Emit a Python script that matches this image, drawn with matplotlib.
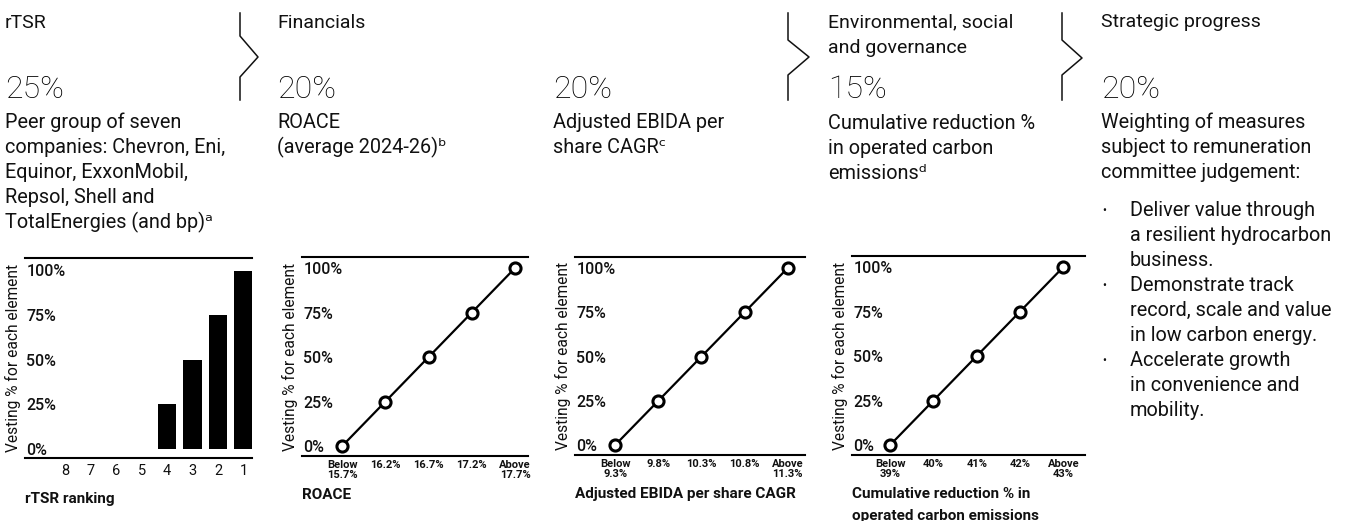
import matplotlib
matplotlib.use("Agg")
import matplotlib.pyplot as plt
from matplotlib.lines import Line2D

W, H = 1350, 521
FAM = ["Roboto", "DejaVu Sans"]
plt.rcParams["font.family"] = FAM

# ---------------- data ----------------
rank_labels = ["8", "7", "6", "5", "4", "3", "2", "1"]
rank_vesting = [0, 0, 0, 0, 25, 50, 75, 100]

roace_labels = ["Below\n15.7%", "16.2%", "16.7%", "17.2%", "Above\n17.7%"]
roace_vesting = [0, 25, 50, 75, 100]

ebida_labels = ["Below\n9.3%", "9.8%", "10.3%", "10.8%", "Above\n11.3%"]
ebida_vesting = [0, 25, 50, 75, 100]

carbon_labels = ["Below\n39%", "40%", "41%", "42%", "Above\n43%"]
carbon_vesting = [0, 25, 50, 75, 100]

ytick_vals = [0, 25, 50, 75, 100]
ytick_labels = ["0%", "25%", "50%", "75%", "100%"]

fig = plt.figure(figsize=(W / 100, H / 100), dpi=100)
INK = "#111111"


def T(x, y, s, **kw):
    kw.setdefault("va", "baseline")
    kw.setdefault("ha", "left")
    kw.setdefault("fontsize", 14.3)
    kw.setdefault("color", INK)
    return fig.text(x / W, 1 - y / H, s, family=FAM, **kw)


def add_axes(x0, x1, y0, y1):
    return fig.add_axes([x0 / W, 1 - y1 / H, (x1 - x0) / W, (y1 - y0) / H])


def style(ax, xlabel, xlabel_y, small_ticks, xl_linespacing=1.25):
    for s in ("left", "right"):
        ax.spines[s].set_visible(False)
    for s in ("top", "bottom"):
        ax.spines[s].set_linewidth(1.5)
    ax.set_yticks(ytick_vals, ytick_labels)
    ax.tick_params(axis="y", length=0, pad=-1, labelsize=11.5, labelcolor=INK)
    for t in ax.get_yticklabels():
        t.set_horizontalalignment("left")
        t.set_fontweight("medium")
    ax.set_ylabel("Vesting % for each element", fontsize=11.2, color=INK)
    wpx = ax.get_position().width * W
    ax.yaxis.set_label_coords(-4 / wpx, 0.5)
    if small_ticks:
        ax.tick_params(axis="x", length=0, pad=3, labelsize=8, labelcolor=INK)
        for t in ax.get_xticklabels():
            t.set_fontweight("bold")
            t.set_linespacing(0.95)
    else:
        ax.tick_params(axis="x", length=0, pad=4, labelsize=10.5, labelcolor=INK)
    ax.set_xlabel(xlabel, loc="left", fontsize=11, fontweight="bold",
                  color=INK, linespacing=xl_linespacing)
    ax.xaxis.set_label_coords(0, xlabel_y)


# ---------------- panel 1 : rTSR bars ----------------
ax1 = add_axes(25, 252, 258, 458)
xpos = list(range(len(rank_labels)))
ax1.bar(xpos, rank_vesting, width=0.72, color="black")
ax1.set_xticks(xpos, rank_labels)
ax1.set_xlim(-1.57, 7.33)
ax1.set_ylim(-5, 107)
style(ax1, "rTSR ranking", -0.17, False)


# ---------------- line panels ----------------
def line_panel(x0, x1, y0, y1, labels, vals, xlim, xlabel, xly, ls=1.25):
    ax = add_axes(x0, x1, y0, y1)
    xs = list(range(len(labels)))
    ax.plot(xs, vals, color="black", lw=1.6, marker="o", ms=8,
            mfc="white", mec="black", mew=2.2, zorder=3, clip_on=False)
    ax.set_xticks(xs, labels)
    ax.set_xlim(*xlim)
    ax.set_ylim(-5.6, 106.2)
    style(ax, xlabel, xly, True, ls)
    return ax


line_panel(302, 528, 257, 456, roace_labels, roace_vesting, (-0.93, 4.3),
           "ROACE", -0.16)
line_panel(575, 805, 257, 455, ebida_labels, ebida_vesting, (-0.93, 4.4),
           "Adjusted EBIDA per share CAGR", -0.16)
line_panel(852, 1085, 256, 455, carbon_labels, carbon_vesting, (-0.88, 4.5),
           "Cumulative reduction % in\noperated carbon emissions", -0.16, 1.75)

# ---------------- header texts ----------------
T(5, 28, "rTSR", fontsize=14)
T(5, 98, "25%", fontsize=23, fontweight="light", color="#000000")
for i, s in enumerate(["Peer group of seven", "companies: Chevron, Eni,",
                       "Equinor, ExxonMobil,", "Repsol, Shell and",
                       "TotalEnergies (and bp)ᵃ"]):
    T(5, 128 + 25 * i, s)

T(277, 28, "Financials", fontsize=14)
T(277, 98, "20%", fontsize=23, fontweight="light", color="#000000")
T(277, 128, "ROACE")
T(277, 153, "(average 2024-26)ᵇ")

T(553, 98, "20%", fontsize=23, fontweight="light", color="#000000")
T(553, 128, "Adjusted EBIDA per")
T(553, 153, "share CAGRᶜ")

T(828, 27, "Environmental, social", fontsize=14)
T(828, 53, "and governance", fontsize=14)
T(828, 98, "15%", fontsize=23, fontweight="light", color="#000000")
T(828, 129, "Cumulative reduction %")
T(828, 154, "in operated carbon")
T(828, 179, "emissionsᵈ")

T(1101, 27, "Strategic progress", fontsize=14)
T(1101, 98, "20%", fontsize=23, fontweight="light", color="#000000")
T(1101, 128, "Weighting of measures")
T(1101, 153, "subject to remuneration")
T(1101, 178, "committee judgement:")
bullets = [["Deliver value through", "a resilient hydrocarbon", "business."],
           ["Demonstrate track", "record, scale and value", "in low carbon energy."],
           ["Accelerate growth", "in convenience and", "mobility."]]
y = 216
for group in bullets:
    T(1102, y - 2, "•", fontsize=8.5)
    for line in group:
        T(1130, y, line)
        y += 25

# ---------------- brackets ----------------
def bracket(x, dx, ytop=13, y1=36, ymid=57, y2=77, ybot=100):
    pts = [(x, ytop), (x, y1), (x + dx, ymid), (x, y2), (x, ybot)]
    fig.add_artist(Line2D([p[0] / W for p in pts], [1 - p[1] / H for p in pts],
                          transform=fig.transFigure, color=INK, lw=1.1))


bracket(240, 18)
bracket(788, 21, y1=40, ymid=57, y2=75)
bracket(1062, 20, y1=40, ymid=58, y2=75)

fig.savefig("out.png", dpi=100, facecolor="white")
